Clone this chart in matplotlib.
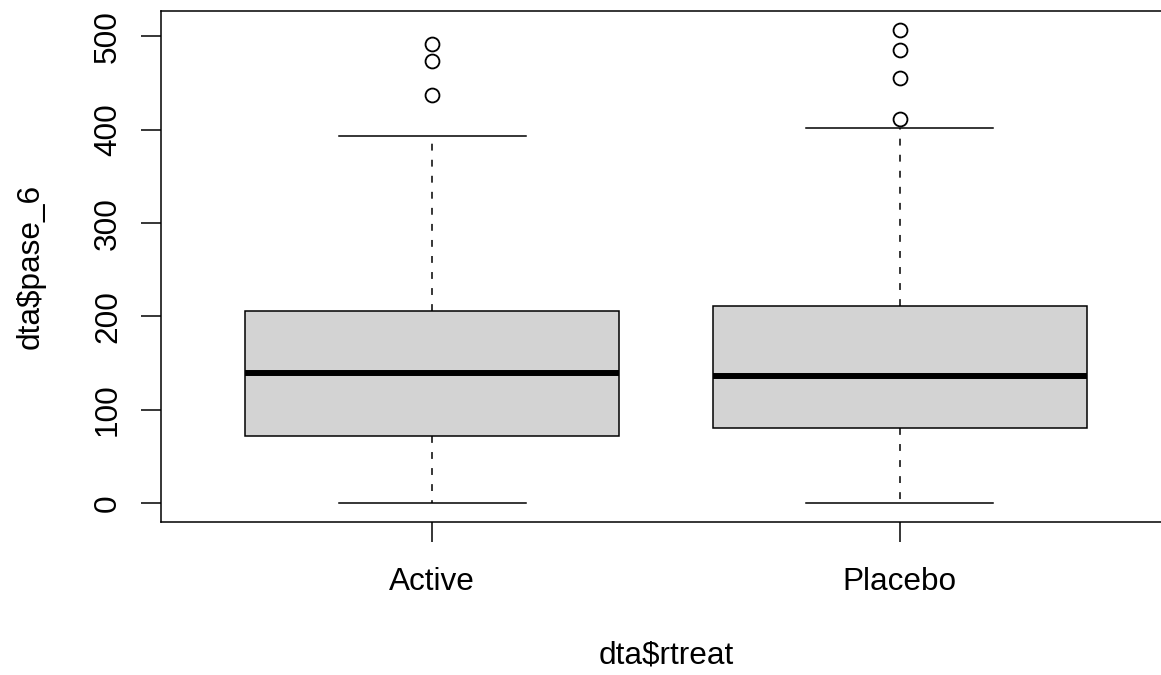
import matplotlib
matplotlib.use("Agg")
import matplotlib.pyplot as plt

plt.rcParams['font.family'] = ['Liberation Sans', 'DejaVu Sans']

# valores
grupos = ['Active', 'Placebo']
minimos = [0, 0]
q1 = [72, 80]
medianas = [139, 136]
q3 = [206, 211]
maximos = [393, 402]
atipicos = [[437, 474, 492], [412, 456, 486, 507]]

stats = []
for i, g in enumerate(grupos):
    stats.append({'label': g, 'whislo': minimos[i], 'q1': q1[i], 'med': medianas[i],
                  'q3': q3[i], 'whishi': maximos[i], 'fliers': atipicos[i]})

W, H = 1161, 675
fig = plt.figure(figsize=(W / 100, H / 100), dpi=100)
# el grafico original esta recortado por la derecha
ax = fig.add_axes([161 / W, 1 - 522 / H, (1171 - 161) / W, (522 - 11) / H])

lw = 1.1
ax.bxp(stats, positions=[1, 2], widths=0.8, patch_artist=True,
       boxprops=dict(facecolor='#d3d3d3', edgecolor='black', linewidth=lw),
       medianprops=dict(color='black', linewidth=4.3, solid_capstyle='butt'),
       whiskerprops=dict(color='black', linestyle=(0, (4.5, 6)), linewidth=lw),
       capprops=dict(color='black', linewidth=lw),
       capwidths=0.4,
       flierprops=dict(marker='o', markerfacecolor='none', markeredgecolor='black',
                       markersize=10, markeredgewidth=lw * 1.2))

# rango como en R: 4% extra a cada lado
ax.set_xlim(0.42, 2.58)
ax.set_ylim(-20.3, 527.3)
ax.set_yticks([0, 100, 200, 300, 400, 500])
ax.set_xticks([1, 2])
ax.set_xticklabels(grupos)
for lbl in ax.get_yticklabels():
    lbl.set_rotation(90)
    lbl.set_va('center')
ax.tick_params(axis='both', labelsize=22.7, length=14.4, width=lw)
ax.tick_params(axis='y', pad=13)
ax.tick_params(axis='x', pad=18)
for s in ax.spines.values():
    s.set_linewidth(lw)

ax.set_xlabel('dta\\$rtreat', fontsize=22.7)
ax.set_ylabel('dta\\$pase_6', fontsize=22.7)
ax.xaxis.set_label_coords(0.5, (522 - 656) / 511)
ax.xaxis.label.set_va('center')
ax.yaxis.set_label_coords((31 - 161) / 1010, 0.5)
ax.yaxis.label.set_ha('center')
ax.yaxis.label.set_va('center')

fig.savefig('out.png', dpi=100)
